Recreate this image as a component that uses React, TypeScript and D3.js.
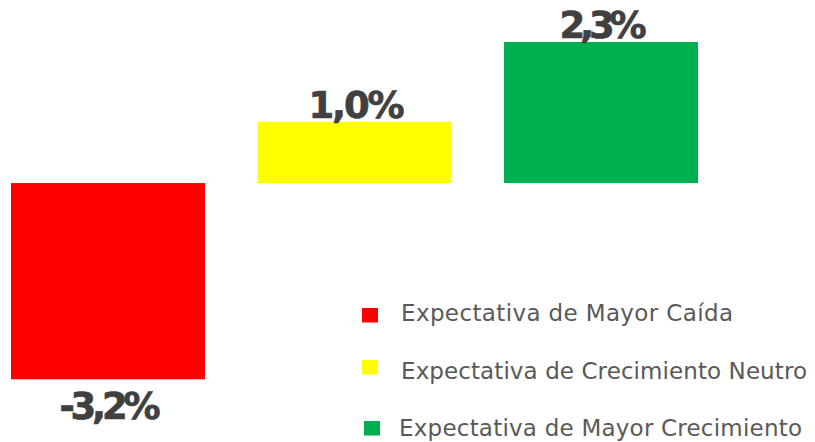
import React from "react";
import * as d3 from "d3";

const categories = ["Expectativa de Mayor Caída", "Expectativa de Crecimiento Neutro", "Expectativa de Mayor Crecimiento"];
const values = [-3.2, 1.0, 2.3];
const labels = ["-3,2%", "1,0%", "2,3%"];
const colors = ["#FF0000", "#FFFF00", "#00B050"];

const W = 815;
const H = 442;

export default function App() {
  const x = d3.scaleBand<string>().domain(categories).range([11, 698]).paddingInner(0.213).paddingOuter(0);
  const y = d3.scaleLinear().domain([-3.2, 2.3]).range([379.3, 42]);
  const labelLen = [101, 96, 87];
  const legendRows = [
    { sq: [362, 308], tx: [401, 321], len: 332 },
    { sq: [362, 360], tx: [401, 378.5], len: 406 },
    { sq: [364, 421], tx: [399, 436], len: 403 },
  ];
  return (
    <svg width={W} height={H} style={{ position: "absolute", left: 0, top: 0, background: "#fff" }}>
      {categories.map((c, i) => {
        const v = values[i];
        const x0 = x(c)!;
        const top = y(Math.max(0, v));
        const bot = y(Math.min(0, v));
        const cx = x0 + x.bandwidth() / 2 + 2;
        const ly = v >= 0 ? top - 4 : bot + 40;
        return (
          <g key={c}>
            <rect x={x0} y={top} width={x.bandwidth()} height={bot - top} fill={colors[i]} />
            <text
              x={cx}
              y={ly}
              textAnchor="middle"
              fontFamily="DejaVu Sans, Verdana, sans-serif"
              fontWeight="bold"
              fontSize={37}
              fill="#404040"
              stroke="#404040"
              strokeWidth={0.7}
              textLength={labelLen[i]}
              lengthAdjust="spacing"
            >
              {labels[i]}
            </text>
          </g>
        );
      })}
      {categories.map((c, i) => {
        const r = legendRows[i];
        return (
          <g key={"lg" + c}>
            <rect x={r.sq[0]} y={r.sq[1]} width={16} height={14.5} fill={colors[i]} />
            <text
              x={r.tx[0]}
              y={r.tx[1]}
              fontFamily="DejaVu Sans, Verdana, sans-serif"
              fontSize={23}
              fill="#595959"
              textLength={r.len}
              lengthAdjust="spacing"
            >
              {c}
            </text>
          </g>
        );
      })}
    </svg>
  );
}
